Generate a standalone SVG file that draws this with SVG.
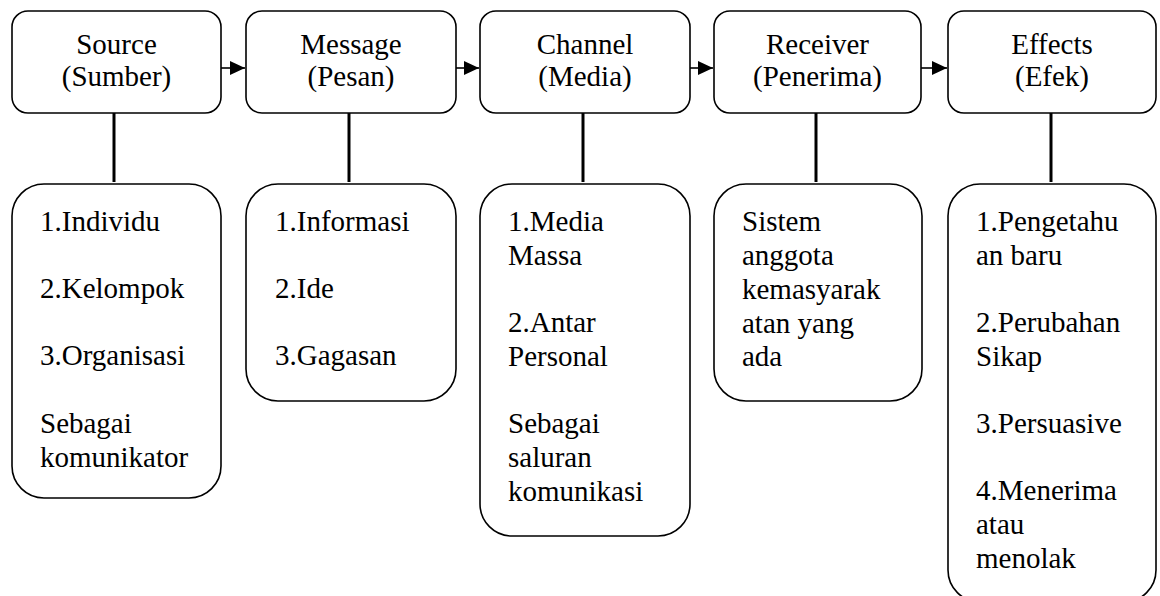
<svg xmlns="http://www.w3.org/2000/svg" width="1160" height="596" viewBox="0 0 1160 596">
<style>
.box{fill:#fff;stroke:#000;stroke-width:1.6}
.t{font-family:'Liberation Serif','Times New Roman',serif;font-size:29px;fill:#000}
.c{text-anchor:middle}
.ln{stroke:#000;stroke-width:3}
.ar{stroke:#000;stroke-width:1.6}
</style>
<defs>
<marker id="ah" markerWidth="15" markerHeight="14" refX="15" refY="7" orient="auto" markerUnits="userSpaceOnUse">
<path d="M0,0 L15,7 L0,14 Z" fill="#000"/>
</marker>
</defs>
<rect width="1160" height="596" fill="#fff"/>
<g id="connectors">
<line class="ar" x1="221" y1="68" x2="245" y2="68" marker-end="url(#ah)"/>
<line class="ar" x1="456" y1="68" x2="479" y2="68" marker-end="url(#ah)"/>
<line class="ar" x1="690" y1="68" x2="713" y2="68" marker-end="url(#ah)"/>
<line class="ar" x1="921" y1="68" x2="947" y2="68" marker-end="url(#ah)"/>
<line class="ln" x1="114" y1="113" x2="114" y2="182"/>
<line class="ln" x1="349" y1="113" x2="349" y2="182"/>
<line class="ln" x1="583" y1="113" x2="583" y2="182"/>
<line class="ln" x1="816" y1="113" x2="816" y2="182"/>
<line class="ln" x1="1051" y1="113" x2="1051" y2="182"/>
</g>
<g id="source">
<rect class="box" x="12" y="11" width="209" height="102" rx="16"/>
<text class="t c" x="116.5" y="54">Source</text>
<text class="t c" x="116.5" y="86">(Sumber)</text>
</g>
<g id="message">
<rect class="box" x="246" y="11" width="210" height="102" rx="16"/>
<text class="t c" x="351" y="54">Message</text>
<text class="t c" x="351" y="86">(Pesan)</text>
</g>
<g id="channel">
<rect class="box" x="480" y="11" width="210" height="102" rx="16"/>
<text class="t c" x="585" y="54">Channel</text>
<text class="t c" x="585" y="86">(Media)</text>
</g>
<g id="receiver">
<rect class="box" x="714" y="11" width="207" height="102" rx="16"/>
<text class="t c" x="817.5" y="54">Receiver</text>
<text class="t c" x="817.5" y="86">(Penerima)</text>
</g>
<g id="effects">
<rect class="box" x="948" y="11" width="208" height="102" rx="16"/>
<text class="t c" x="1052" y="54">Effects</text>
<text class="t c" x="1052" y="86">(Efek)</text>
</g>
<g id="source-detail">
<rect class="box" x="12" y="184" width="209" height="314" rx="32"/>
<text class="t" x="40" y="231">1.Individu</text>
<text class="t" x="40" y="298">2.Kelompok</text>
<text class="t" x="40" y="365">3.Organisasi</text>
<text class="t" x="40" y="433">Sebagai</text>
<text class="t" x="40" y="467">komunikator</text>
</g>
<g id="message-detail">
<rect class="box" x="246" y="184" width="210" height="217" rx="32"/>
<text class="t" x="275" y="231">1.Informasi</text>
<text class="t" x="275" y="298">2.Ide</text>
<text class="t" x="275" y="365">3.Gagasan</text>
</g>
<g id="channel-detail">
<rect class="box" x="480" y="184" width="210" height="352" rx="32"/>
<text class="t" x="508" y="231">1.Media</text>
<text class="t" x="508" y="265">Massa</text>
<text class="t" x="508" y="332">2.Antar</text>
<text class="t" x="508" y="366">Personal</text>
<text class="t" x="508" y="433">Sebagai</text>
<text class="t" x="508" y="467">saluran</text>
<text class="t" x="508" y="501">komunikasi</text>
</g>
<g id="receiver-detail">
<rect class="box" x="714" y="184" width="208" height="217" rx="32"/>
<text class="t" x="742" y="231">Sistem</text>
<text class="t" x="742" y="265">anggota</text>
<text class="t" x="742" y="299">kemasyarak</text>
<text class="t" x="742" y="333">atan yang</text>
<text class="t" x="742" y="366">ada</text>
</g>
<g id="effects-detail">
<rect class="box" x="948" y="184" width="208" height="418" rx="32"/>
<text class="t" x="976" y="231">1.Pengetahu</text>
<text class="t" x="976" y="265">an baru</text>
<text class="t" x="976" y="332">2.Perubahan</text>
<text class="t" x="976" y="366">Sikap</text>
<text class="t" x="976" y="433">3.Persuasive</text>
<text class="t" x="976" y="500">4.Menerima</text>
<text class="t" x="976" y="534">atau</text>
<text class="t" x="976" y="568">menolak</text>
</g>
</svg>
